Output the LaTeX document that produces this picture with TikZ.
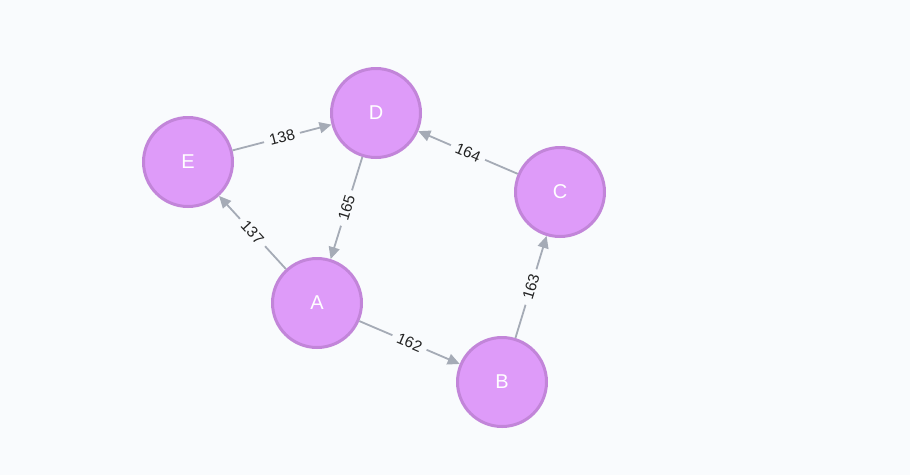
\documentclass[tikz,border=0pt]{standalone}
\usepackage{fontspec}
\setmainfont{Liberation Sans}
\usetikzlibrary{arrows.meta}
\definecolor{bgc}{HTML}{F9FBFD}
\definecolor{nodefill}{HTML}{DE9BF9}
\definecolor{nodeline}{HTML}{C285D9}
\definecolor{edgec}{HTML}{A5ABB6}
\definecolor{lblc}{HTML}{222222}
\tikzset{
  vtx/.style={circle,fill=nodefill,draw=nodeline,line width=3pt,minimum size=89pt,inner sep=0pt,text=white,font=\fontsize{20pt}{22pt}\selectfont},
  edge/.style={draw=edgec,line width=1.8pt,-{Triangle[length=12pt,width=11pt]}},
  lbl/.style={sloped,fill=bgc,inner xsep=5.5pt,inner ysep=2pt,text=lblc,font=\fontsize{15.5pt}{17pt}\selectfont}
}
\begin{document}
\begin{tikzpicture}[x=1pt,y=1pt]
\fill[bgc] (0,0) rectangle (910,-475);
\useasboundingbox (0,0) rectangle (910,-475);
\node[vtx] (E) at (188,-162) {E};
\node[vtx] (D) at (376,-113) {D};
\node[vtx] (C) at (560,-192) {C};
\node[vtx] (A) at (317,-303) {A};
\node[vtx] (B) at (502,-382) {B};
\draw[edge] (E) -- node[lbl]{138} (D);
\draw[edge] (C) -- node[lbl]{164} (D);
\draw[edge] (D) -- node[lbl]{165} (A);
\draw[edge] (A) -- node[lbl]{137} (E);
\draw[edge] (A) -- node[lbl]{162} (B);
\draw[edge] (B) -- node[lbl]{163} (C);
\end{tikzpicture}
\end{document}
